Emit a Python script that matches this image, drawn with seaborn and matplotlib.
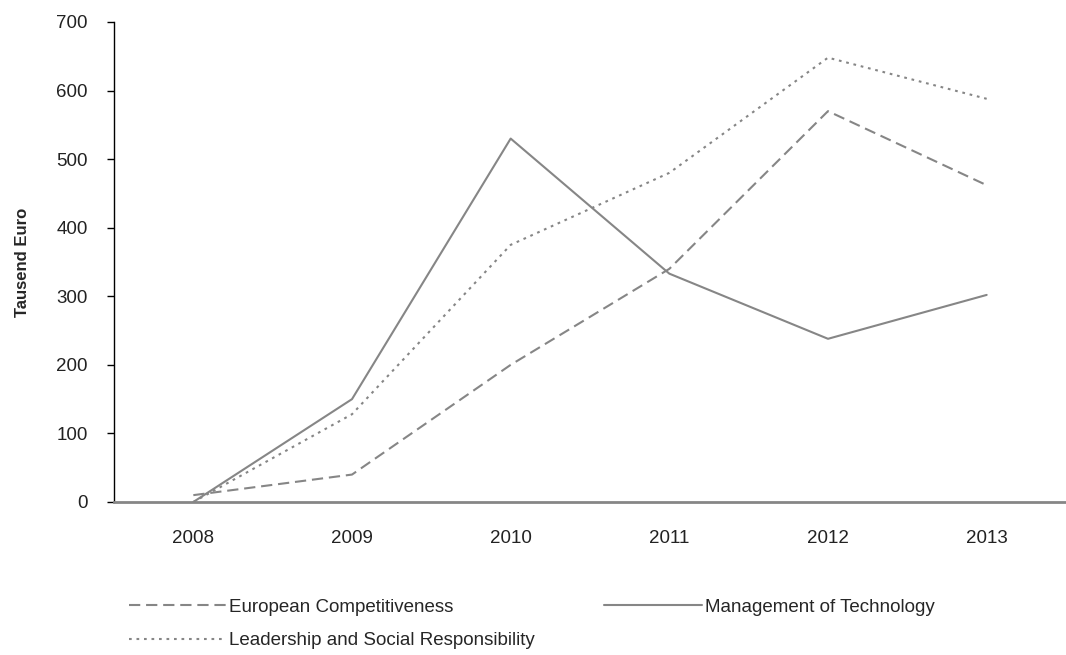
import matplotlib
matplotlib.use("Agg")
import pandas as pd
import matplotlib.pyplot as plt
import seaborn as sns

years = ["2008", "2009", "2010", "2011", "2012", "2013"]
european = [10, 40, 200, 340, 570, 462]
management = [0, 150, 530, 333, 238, 302]
leadership = [0, 128, 375, 480, 648, 588]

names = ["European Competitiveness", "Management of Technology",
         "Leadership and Social Responsibility"]

df = pd.DataFrame({
    "year": years * 3,
    "value": european + management + leadership,
    "series": [names[0]] * 6 + [names[1]] * 6 + [names[2]] * 6,
})

sns.set_style("white")
plt.rcParams["font.family"] = ["Liberation Sans", "DejaVu Sans"]

fig = plt.figure(figsize=(10.66, 6.55), dpi=100)
ax = fig.add_axes([114 / 1066, 153 / 655, 1 - 114 / 1066, 480 / 655])

line_color = "#868686"
dashes = {names[0]: (5.4, 2.8), names[1]: "", names[2]: (1.3, 2.3)}
sns.lineplot(data=df, x="year", y="value", style="series", dashes=dashes,
             color=line_color, linewidth=1.5, ax=ax, legend=True, sort=False)

ax.set_xlim(-0.5, 5.5)
ax.set_ylim(0, 700)
ax.set_yticks(range(0, 701, 100))
ax.set_xlabel("")
ax.set_ylabel("Tausend Euro", fontsize=12, fontweight="bold", labelpad=19)
ax.tick_params(axis="y", left=True, length=5, width=1, color="black",
               labelsize=13.5, labelcolor="#222222", pad=14)
ax.tick_params(axis="x", bottom=False, labelsize=13.5, labelcolor="#222222", pad=17)
for s in ["top", "right"]:
    ax.spines[s].set_visible(False)
ax.spines["left"].set_color("black")
ax.spines["left"].set_linewidth(1)
ax.spines["bottom"].set_color(line_color)
ax.spines["bottom"].set_linewidth(2)

handles, labels = ax.get_legend_handles_labels()
order = [labels.index(names[0]), labels.index(names[2]), labels.index(names[1])]
ax.legend([handles[i] for i in order], [labels[i] for i in order],
          ncol=2, frameon=False, loc="upper left",
          bbox_to_anchor=(112 / 1066, 1 - 582 / 655),
          bbox_transform=fig.transFigure,
          handlelength=5.2, handletextpad=0.15, columnspacing=3.7,
          labelspacing=0.85, prop={"size": 13.5})

fig.savefig("out.png", dpi=100)
